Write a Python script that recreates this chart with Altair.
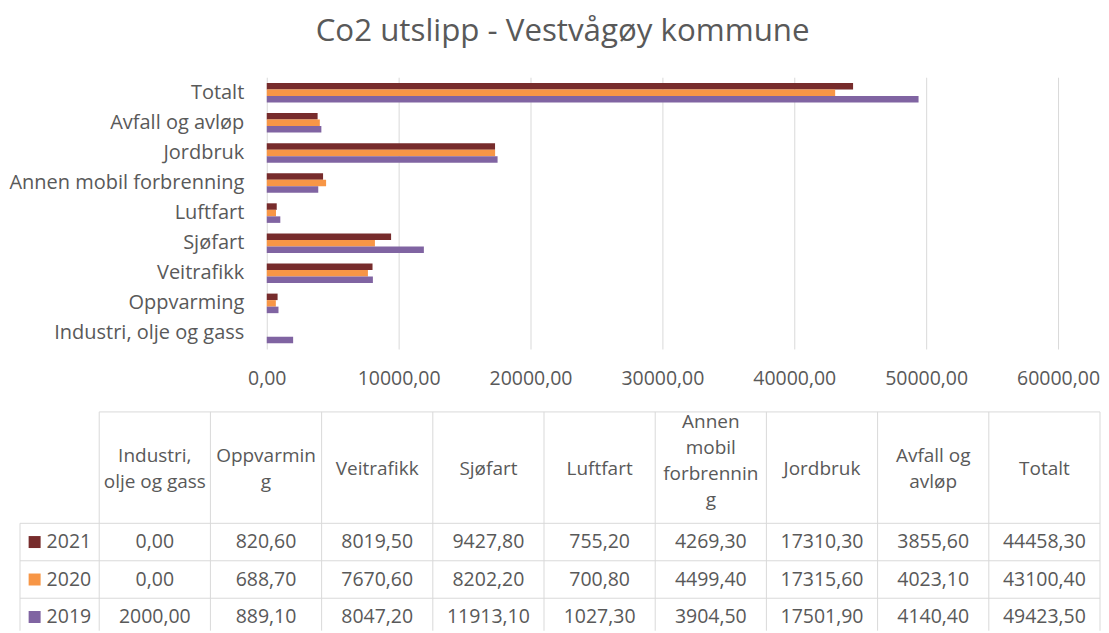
import altair as alt
import pandas as pd

# ---- data ----
categories = ["Industri, olje og gass", "Oppvarming", "Veitrafikk", "Sjøfart", "Luftfart",
              "Annen mobil forbrenning", "Jordbruk", "Avfall og avløp", "Totalt"]
header_labels = ["Industri,\nolje og gass", "Oppvarmin\ng", "Veitrafikk", "Sjøfart", "Luftfart",
                 "Annen\nmobil\nforbrennin\ng", "Jordbruk", "Avfall og\navløp", "Totalt"]
years = ["2021", "2020", "2019"]
values_2021 = [0.00, 820.60, 8019.50, 9427.80, 755.20, 4269.30, 17310.30, 3855.60, 44458.30]
values_2020 = [0.00, 688.70, 7670.60, 8202.20, 700.80, 4499.40, 17315.60, 4023.10, 43100.40]
values_2019 = [2000.00, 889.10, 8047.20, 11913.10, 1027.30, 3904.50, 17501.90, 4140.40, 49423.50]
colors = ["#772C2C", "#F79646", "#8064A2"]
x_ticks = [0, 10000, 20000, 30000, 40000, 50000, 60000]

series = {"2021": values_2021, "2020": values_2020, "2019": values_2019}

FONT = "Open Sans"
TXT = "#595959"
GRID = "#D9D9D9"

rows = []
for yi, yr in enumerate(years):
    for ci, cat in enumerate(categories):
        rows.append({"year": yr, "year_idx": yi, "category": cat, "col": ci, "value": series[yr][ci],
                     "label": f"{series[yr][ci]:.2f}".replace(".", ",")})
df = pd.DataFrame(rows)

color_scale = alt.Scale(domain=years, range=colors)

# ---- bar chart ----
bars = alt.Chart(df).mark_bar().encode(
    y=alt.Y("category:N", sort=list(reversed(categories)), title=None,
            scale=alt.Scale(paddingInner=0.35, paddingOuter=0.19),
            axis=alt.Axis(ticks=False, domain=False, grid=False, labelFont=FONT, labelFontSize=20,
                          labelColor=TXT, labelPadding=23, labelLimit=400)),
    yOffset=alt.YOffset("year:N", sort=years, scale=alt.Scale(paddingInner=0, paddingOuter=0)),
    x=alt.X("value:Q", title=None,
            scale=alt.Scale(domain=[0, 60000], nice=False),
            axis=alt.Axis(values=x_ticks, ticks=False, domain=False, grid=True, gridColor=GRID,
                          labelFlush=False,
                          labelFont=FONT, labelFontSize=19.5, labelColor=TXT, labelPadding=21,
                          labelExpr="replace(format(datum.value, '.2f'), '.', ',')")),
    color=alt.Color("year:N", scale=color_scale, legend=None),
).properties(width=792, height=272)

# ---- data table (layout in pixel-derived units) ----
COL_PX = 111.3
ROW_PX = 37.5
LINE_PX = 26.3
HEADER_PX = 111.5
HEADER_H = HEADER_PX / ROW_PX    # header height in row units
KEY_W = 79.3 / COL_PX            # key column width in column units
TABLE_W = 834                    # plot area of the table panel (aligned with bar plot)
TABLE_H = 219                    # visible part of the table
BLOCK_C = 57                     # vertical centre of header text block (px from top)
LAST_MAX = 88                    # lowest allowed header line centre (px from top)

n_rows = len(years)
n_cols = len(categories)
x_min = n_cols - TABLE_W / COL_PX
y_max = TABLE_H / ROW_PX

hdr = pd.DataFrame({"col": list(range(n_cols)), "text": header_labels})
hdr["nlines"] = hdr["text"].str.count("\n") + 1
hdr["xc"] = hdr["col"] + 0.5
first_c = [min(BLOCK_C - (n - 1) * LINE_PX / 2, LAST_MAX - (n - 1) * LINE_PX) for n in hdr["nlines"]]
hdr["ytop"] = [(c - 8.5) / ROW_PX for c in first_c]

df["xc"] = df["col"] + 0.5
df["yc"] = HEADER_H + df["year_idx"] + 0.5

keys = pd.DataFrame({"year": years, "year_idx": list(range(n_rows))})
keys["xc"] = -KEY_W / 2
keys["yc"] = HEADER_H + keys["year_idx"] + 0.5

hlines = [{"x": 0, "x2": n_cols, "y": 0}] + \
         [{"x": -KEY_W, "x2": n_cols, "y": HEADER_H + i} for i in range(n_rows + 1)
          if HEADER_H + i <= y_max]
vlines = [{"x": -KEY_W, "y": HEADER_H, "y2": y_max}] + \
         [{"x": i, "y": 0, "y2": y_max} for i in range(n_cols + 1)]

xs = alt.Scale(domain=[x_min, n_cols], nice=False, zero=False)
ys = alt.Scale(domain=[0, y_max], nice=False, zero=False, reverse=True)

h_rules = alt.Chart(pd.DataFrame(hlines)).mark_rule(color=GRID, strokeWidth=1).encode(
    x=alt.X("x:Q", scale=xs, axis=None), x2="x2:Q", y=alt.Y("y:Q", scale=ys, axis=None))
v_rules = alt.Chart(pd.DataFrame(vlines)).mark_rule(color=GRID, strokeWidth=1).encode(
    x=alt.X("x:Q", scale=xs, axis=None), y=alt.Y("y:Q", scale=ys, axis=None), y2="y2:Q")

hdr_text = alt.Chart(hdr).mark_text(font=FONT, fontSize=19, color=TXT, lineBreak="\n",
                                    lineHeight=LINE_PX, baseline="top", align="center").encode(
    x=alt.X("xc:Q", scale=xs, axis=None), y=alt.Y("ytop:Q", scale=ys, axis=None), text="text:N")

val_text = alt.Chart(df).mark_text(font=FONT, fontSize=19.5, color=TXT, baseline="middle",
                                   align="center").encode(
    x=alt.X("xc:Q", scale=xs, axis=None), y=alt.Y("yc:Q", scale=ys, axis=None), text="label:N")

key_sq = alt.Chart(keys).mark_square(size=144, opacity=1, filled=True, xOffset=-25).encode(
    x=alt.X("xc:Q", scale=xs, axis=None), y=alt.Y("yc:Q", scale=ys, axis=None),
    color=alt.Color("year:N", scale=color_scale, legend=None))

key_text = alt.Chart(keys).mark_text(font=FONT, fontSize=19.5, color=TXT, baseline="middle",
                                     align="left", dx=-13).encode(
    x=alt.X("xc:Q", scale=xs, axis=None), y=alt.Y("yc:Q", scale=ys, axis=None), text="year:N")

table = alt.layer(h_rules, v_rules, hdr_text, val_text, key_sq, key_text).properties(
    width=TABLE_W, height=TABLE_H)

chart = alt.vconcat(bars, table, spacing=22).properties(
    title=alt.Title("Co2 utslipp - Vestvågøy kommune", font=FONT, fontSize=31.3, color=TXT,
                    fontWeight="normal", anchor="middle", baseline="bottom", offset=-2, dx=8),
    padding={"left": 0, "top": 7, "right": 0, "bottom": 0},
).configure_view(stroke=None)

chart.save("out.html", embed_options={"renderer": "svg", "actions": False})
